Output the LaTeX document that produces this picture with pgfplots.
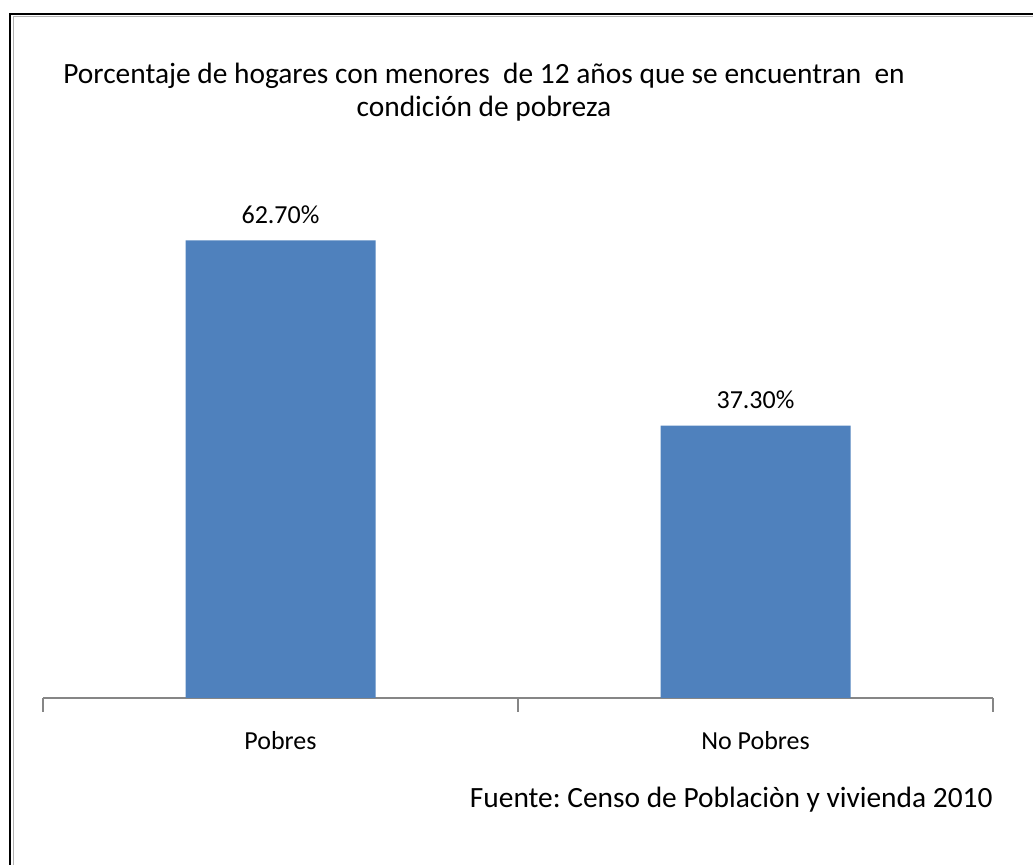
\documentclass[border=0pt]{standalone}
\usepackage{pgfplots}
\pgfplotsset{compat=1.18}
\usepackage{fontspec}
\setmainfont{Carlito}
\definecolor{barblue}{HTML}{4F81BD}
\definecolor{axgray}{HTML}{868686}
\begin{document}
\frenchspacing
\begin{tikzpicture}
\path[use as bounding box] (0,0) rectangle (516.5pt,432.5pt);
% frame
\draw[black, line width=1.4pt] (5pt,0) -- (5pt,425.5pt) -- (516.5pt,425.5pt);
\draw[gray!60, line width=0.8pt] (6.7pt,0) -- (6.7pt,424.2pt) -- (516.5pt,424.2pt);
% title
\node[align=center, font=\fontsize{14.7}{16.5}\selectfont] at (242pt,386.5pt)
  {Porcentaje de hogares con menores\ \ de 12 años que se encuentran\ \ en\\condición de pobreza};
% source
\node[anchor=east, font=\fontsize{14.7}{16}\selectfont] at (499.8pt,32.5pt)
  {Fuente: Censo de Poblaciòn y vivienda 2010};
\begin{axis}[
  at={(21.5pt,83.5pt)}, anchor=south west,
  scale only axis, width=475pt, height=255.5pt,
  xmin=-0.5, xmax=1.5, ymin=0, ymax=70,
  axis x line*=bottom, axis y line=none,
  x axis line style={axgray, line width=0.8pt, -},
  xtick={0,1}, xticklabels={Pobres, No Pobres},
  major tick length=0pt,
  xticklabel style={font=\fontsize{13}{15}\selectfont, yshift=-13pt},
  extra x ticks={-0.5,0.5,1.5}, extra x tick labels={},
  extra x tick style={major tick length=7pt, tick align=outside, tick style={axgray, line width=0.8pt}},
  ybar, bar width=0.4,
  point meta=explicit symbolic,
  nodes near coords,
  nodes near coords style={font=\fontsize{13}{15}\selectfont, anchor=south, yshift=5pt, text=black},
  clip=false,
]
\addplot[fill=barblue, draw=none] coordinates {(0,62.7) [62.70\%] (1,37.3) [37.30\%]};
\end{axis}
\end{tikzpicture}
\end{document}
